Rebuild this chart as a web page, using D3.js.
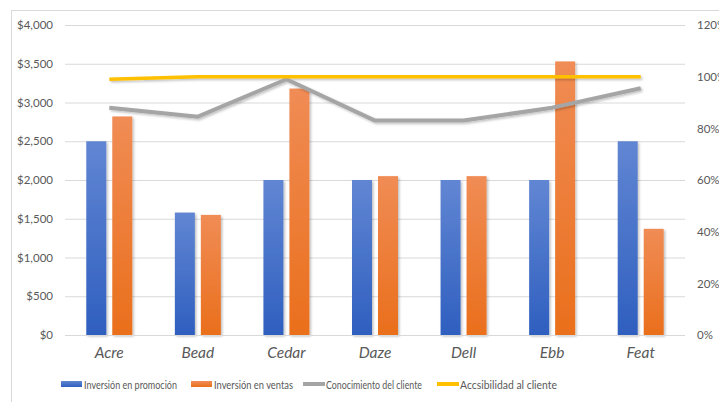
<!DOCTYPE html>
<html><head><meta charset="utf-8">
<script src="https://cdn.jsdelivr.net/npm/d3@7/dist/d3.min.js"></script>
<style>body{margin:0;background:#fff;}svg{display:block;font-family:Lato,"Open Sans",sans-serif;}</style>
</head><body><svg id="c" width="719" height="402"></svg>
<script>
const categories = ["Acre","Bead","Cedar","Daze","Dell","Ebb","Feat"];
const promocion = [2500,1580,2000,2000,2000,2000,2500];
const ventas = [2820,1550,3180,2050,2050,3530,1370];
const conocimiento = [0.88,0.845,0.99,0.83,0.83,0.88,0.955];
const accesibilidad = [0.99,1.0,1.0,1.0,1.0,1.0,1.0];
const leftTicks = [0,500,1000,1500,2000,2500,3000,3500,4000];
const rightTicks = [0,0.2,0.4,0.6,0.8,1.0,1.2];
const seriesNames = ["Inversión en promoción","Inversión en ventas","Conocimiento del cliente","Accsibilidad al cliente"];
const colors = ["#4472C4","#ED7D31","#A5A5A5","#FFC000"];

const svg = d3.select("#c");
const defs = svg.append("defs");
const f = defs.append("filter").attr("id","sh").attr("x","-20%").attr("y","-20%").attr("width","150%").attr("height","150%");
f.append("feDropShadow").attr("dx",1.5).attr("dy",1.5).attr("stdDeviation",1.2).attr("flood-color","#000").attr("flood-opacity",0.25);
function grad(id,c1,c2){const g=defs.append("linearGradient").attr("id",id).attr("x1",0).attr("y1",0).attr("x2",0).attr("y2",1);
 g.append("stop").attr("offset","0%").attr("stop-color",c1);g.append("stop").attr("offset","100%").attr("stop-color",c2);}
grad("gb","#6186d3","#2f5fbf");
grad("go","#f08c55","#ea6f1c");

// chart border
svg.append("rect").attr("x",11.5).attr("y",10.5).attr("width",720).attr("height",400).attr("fill","none").attr("stroke","#d9d9d9");

const L=65,R=685,T=25,B=335;
const x = d3.scaleBand().domain(categories).range([L,R]);
const y = d3.scaleLinear().domain([0,4000]).range([B,T]);
const y2 = d3.scaleLinear().domain([0,1.2]).range([B,T]);

// grid
svg.append("g").selectAll("line").data(leftTicks.slice(1)).join("line")
 .attr("x1",L).attr("x2",R).attr("y1",d=>y(d)+0.5).attr("y2",d=>y(d)+0.5).attr("stroke","#d9d9d9");

// left axis
const la = svg.append("g").attr("transform",`translate(${L},0)`)
 .call(d3.axisLeft(y).tickValues(leftTicks).tickSize(0).tickPadding(12).tickFormat(d=>"$"+d3.format(",")(d)));
la.select(".domain").remove();
la.selectAll("text").attr("font-size",11.5).attr("fill","#595959").attr("font-family","Lato");

// right axis
const ra = svg.append("g").attr("transform",`translate(${R},0)`)
 .call(d3.axisRight(y2).tickValues(rightTicks).tickSize(0).tickPadding(12).tickFormat(d3.format(".0%")));
ra.select(".domain").remove();
ra.selectAll("text").attr("font-size",11.5).attr("fill","#595959").attr("font-family","Lato");

// bars
const bw=20, gap=6;
const g = svg.append("g").attr("filter","url(#sh)");
g.selectAll("rect.b").data(categories).join("rect")
 .attr("x",d=>x(d)+x.bandwidth()/2-gap/2-bw).attr("width",bw)
 .attr("y",(d,i)=>y(promocion[i])).attr("height",(d,i)=>B-y(promocion[i])).attr("fill","url(#gb)");
g.selectAll("rect.o").data(categories).join("rect")
 .attr("x",d=>x(d)+x.bandwidth()/2+gap/2).attr("width",bw)
 .attr("y",(d,i)=>y(ventas[i])).attr("height",(d,i)=>B-y(ventas[i])).attr("fill","url(#go)");

// bottom axis line
svg.append("line").attr("x1",L).attr("x2",R).attr("y1",B+0.5).attr("y2",B+0.5).attr("stroke","#d9d9d9");

// category labels
const xa = svg.append("g").attr("transform",`translate(0,${B})`).call(d3.axisBottom(x).tickSize(0).tickPadding(12));
xa.select(".domain").remove();
xa.selectAll("text").attr("font-size",15.5).attr("font-style","italic").attr("fill","#595959").attr("font-family","Lato");

// lines
const line = d3.line().x((d,i)=>x(categories[i])+x.bandwidth()/2).y(d=>y2(d));
const lg = svg.append("g").attr("filter","url(#sh)");
lg.append("path").attr("d",line(conocimiento)).attr("fill","none").attr("stroke",colors[2]).attr("stroke-width",4).attr("stroke-linejoin","round");
lg.append("path").attr("d",line(accesibilidad)).attr("fill","none").attr("stroke",colors[3]).attr("stroke-width",3.5).attr("stroke-linejoin","round");

// legend
const legX=[61,191,303,437];
const legW=[93,79,96,97];
const leg = svg.append("g");
seriesNames.forEach((n,i)=>{
 if(i<2){
  leg.append("rect").attr("x",legX[i]).attr("y",381).attr("width",21).attr("height",6).attr("fill",i==0?"url(#gb)":"url(#go)");
 } else {
  leg.append("line").attr("x1",legX[i]).attr("x2",legX[i]+22).attr("y1",384).attr("y2",384).attr("stroke",colors[i]).attr("stroke-width",4);
 }
 leg.append("text").attr("x",legX[i]+23).attr("y",388.5).attr("font-size",11.5).attr("fill","#595959")
  .attr("textLength",legW[i]).attr("lengthAdjust","spacingAndGlyphs").text(n);
});
</script></body></html>
